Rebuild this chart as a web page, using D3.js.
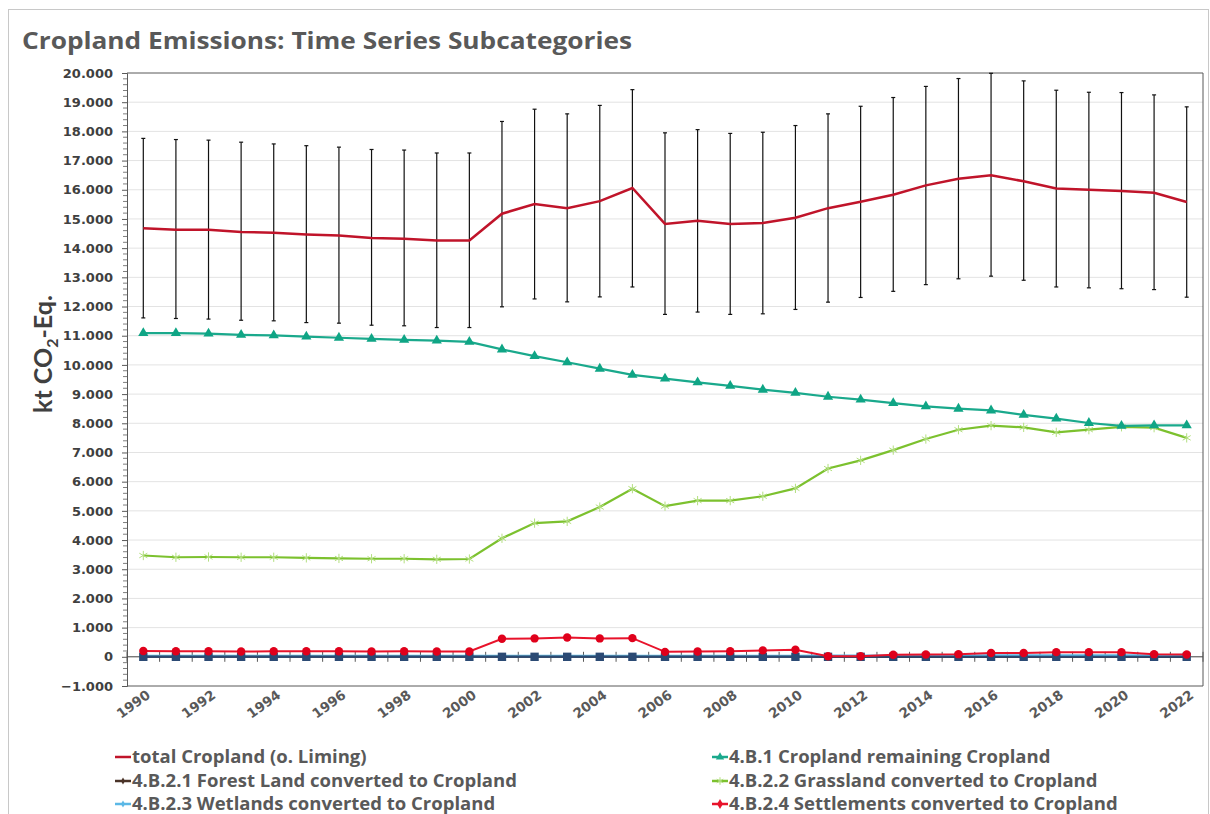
<!DOCTYPE html>
<html><head><meta charset="utf-8">
<script src="https://cdn.jsdelivr.net/npm/d3@7"></script>
<style>body{margin:0;background:#fff;}svg{display:block;font-family:"Open Sans",Lato,sans-serif;}</style>
</head><body><svg id="c" width="1210" height="814"></svg>
<script>
const years = d3.range(1990, 2023);
const totalCropland = [14680,14630,14630,14550,14530,14470,14430,14350,14320,14260,14260,15180,15510,15370,15610,16060,14830,14940,14830,14860,15040,15370,15590,15830,16150,16380,16500,16290,16040,16000,15960,15900,15580];
const totalUpper = [17760,17720,17700,17630,17570,17510,17460,17380,17360,17260,17260,18340,18760,18600,18890,19430,17950,18060,17930,17970,18200,18600,18860,19160,19540,19810,19990,19730,19410,19340,19330,19250,18840];
const totalLower = [11610,11590,11570,11530,11510,11450,11430,11360,11340,11280,11280,11990,12260,12160,12330,12670,11730,11810,11730,11750,11900,12150,12310,12520,12750,12950,13040,12900,12670,12640,12610,12580,12320];
const remaining = [11090,11090,11070,11030,11010,10970,10930,10890,10860,10830,10790,10530,10300,10090,9870,9660,9530,9400,9280,9150,9040,8910,8810,8690,8580,8500,8440,8290,8160,8010,7910,7930,7930];
const forestLand = [0,0,0,0,0,0,0,0,0,0,0,0,0,0,0,0,0,0,0,0,0,-10,-10,-10,-10,-10,-10,-10,-10,-10,-10,-10,-10];
const grassland = [3470,3410,3420,3410,3410,3390,3370,3360,3360,3340,3350,4060,4580,4640,5130,5760,5160,5350,5350,5500,5770,6450,6730,7080,7460,7780,7920,7860,7690,7780,7880,7850,7500];
const wetlands = [20,20,20,20,20,20,20,20,20,20,20,20,20,20,20,20,20,20,20,20,20,30,30,30,30,30,40,40,40,40,40,40,50];
const settlements = [200,190,190,180,190,190,190,180,190,180,180,620,630,660,630,640,170,180,190,220,240,20,20,70,80,90,130,130,160,160,160,90,80];
const otherLand = [0,0,0,0,0,0,0,0,0,0,0,0,0,0,0,0,0,0,0,0,0,0,0,0,0,0,0,0,0,0,0,0,0];
const yTicks = d3.range(-1000, 20001, 1000);
const xLabelYears = years.filter(y => (y - 1990) % 2 === 0);
const titleText = "Cropland Emissions: Time Series Subcategories";
const legendLabels = ["total Cropland (o. Liming)","4.B.1 Cropland remaining Cropland","4.B.2.1 Forest Land converted to Cropland","4.B.2.2 Grassland converted to Cropland","4.B.2.3 Wetlands converted to Cropland","4.B.2.4 Settlements converted to Cropland"];

const svg = d3.select("#c");
const L = 127, R = 1203, T = 73, B = 686;
const x = d3.scaleBand().domain(years).range([L, R]);
const cx = d => x(d) + x.bandwidth() / 2;
const y = d3.scaleLinear().domain([-1000, 20000]).range([B, T]);
const fmt = v => v === 0 ? "0" : d3.format(",")(v).replace(/,/g, ".");

// outer border
svg.append("rect").attr("x", 8.5).attr("y", 9.5).attr("width", 1200).attr("height", 820)
  .attr("fill", "none").attr("stroke", "#c8c8c8");

svg.append("text").attr("x", 22).attr("y", 49).attr("font-size", 24).attr("font-weight", 700)
  .attr("fill", "#595959").attr("textLength", 610).attr("lengthAdjust", "spacingAndGlyphs").text(titleText);

// gridlines
svg.append("g").selectAll("line").data(yTicks.filter(v => v !== -1000 && v !== 20000 && v !== 0)).join("line")
  .attr("x1", L).attr("x2", R).attr("y1", d => y(d)).attr("y2", d => y(d))
  .attr("stroke", "#e3e3e3").attr("stroke-width", 1);

// y axis
const yAxis = d3.axisLeft(y).tickValues(yTicks).tickFormat(fmt).tickSize(5).tickPadding(9);
const gy = svg.append("g").attr("transform", `translate(${L},0)`).call(yAxis);
gy.select(".domain").attr("stroke", "#595959");
gy.selectAll(".tick line").attr("stroke", "#595959");
gy.selectAll("text").attr("font-size", 13).attr("font-weight", 700).attr("fill", "#404040").attr("font-family", "DejaVu Sans");
const minor = d3.range(-1000, 20001, 200).filter(v => v % 1000 !== 0);
svg.append("g").selectAll("line").data(minor).join("line")
  .attr("x1", L - 4).attr("x2", L).attr("y1", d => y(d)).attr("y2", d => y(d)).attr("stroke", "#7f7f7f");

// plot border top/right/bottom
svg.append("path").attr("d", `M${L},${T}H${R}V${B}H${L}`).attr("fill", "none").attr("stroke", "#595959");

// zero axis with category ticks
svg.append("line").attr("x1", L).attr("x2", R).attr("y1", y(0)).attr("y2", y(0)).attr("stroke", "#404040");
svg.append("g").selectAll("line").data(years.concat([2023])).join("line")
  .attr("x1", d => d === 2023 ? R : x(d)).attr("x2", d => d === 2023 ? R : x(d))
  .attr("y1", y(0) - 5).attr("y2", y(0) + 5).attr("stroke", "#595959");

// x labels
svg.append("g").selectAll("text").data(xLabelYears).join("text")
  .attr("transform", d => `translate(${cx(d) + 8},${B + 11}) rotate(-36)`)
  .attr("text-anchor", "end").attr("font-family", "DejaVu Sans").attr("font-size", 13.5).attr("font-weight", 700).attr("fill", "#595959").text(d => d);

// y title
const yt = svg.append("text").attr("transform", "translate(52,354) rotate(-90)").attr("text-anchor", "middle")
  .attr("font-family", "Lato").attr("font-size", 25).attr("font-weight", 700).attr("fill", "#404040");
yt.append("tspan").text("kt CO");
yt.append("tspan").attr("font-size", 16).attr("dy", 6).text("2");
yt.append("tspan").attr("dy", -6).text("-Eq.");

// error bars
const eb = svg.append("g").attr("stroke", "#111").attr("stroke-width", 1.2);
years.forEach((yr, i) => {
  eb.append("line").attr("x1", cx(yr)).attr("x2", cx(yr)).attr("y1", y(totalUpper[i])).attr("y2", y(totalLower[i]));
  eb.append("line").attr("x1", cx(yr) - 2).attr("x2", cx(yr) + 2).attr("y1", y(totalUpper[i])).attr("y2", y(totalUpper[i]));
  eb.append("line").attr("x1", cx(yr) - 2).attr("x2", cx(yr) + 2).attr("y1", y(totalLower[i])).attr("y2", y(totalLower[i]));
});

const line = d3.line().x((d, i) => cx(years[i])).y(d => y(d));
function series(vals, color, width, sym, size, fill, stroke) {
  svg.append("path").attr("d", line(vals)).attr("fill", "none").attr("stroke", color).attr("stroke-width", width);
  if (sym) {
    svg.append("g").selectAll("path").data(vals).join("path")
      .attr("transform", (d, i) => `translate(${cx(years[i])},${y(d)})`)
      .attr("d", d3.symbol(sym, size)).attr("fill", fill).attr("stroke", stroke || "none").attr("stroke-width", 1);
  }
}
series(wetlands, "#5bb8e6", 3, null);
series(forestLand, "#4a3328", 2, null);
series(otherLand, "#2b4a74", 2, d3.symbolSquare, 70, "#2b4a74");
series(settlements, "#e8132b", 2, d3.symbolCircle, 55, "#e0001b");
series(grassland, "#7cc12e", 2.2, d3.symbolAsterisk, 60, "none", "#b3df80");
series(remaining, "#1aa98c", 2.2, d3.symbolTriangle, 45, "#0fa585");
series(totalCropland, "#c0142a", 2.5, null);

// legend
const lg = svg.append("g").attr("font-size", 18.5).attr("font-weight", 700).attr("fill", "#595959");
const lx = [115, 712], ly = [757, 781, 804];
const legendStyle = [
  {c: "#c0142a", sym: null},
  {c: "#1aa98c", sym: d3.symbolTriangle, s: 30},
  {c: "#4a3328", sym: d3.symbolDiamond, s: 14},
  {c: "#7cc12e", sym: d3.symbolAsterisk, s: 40, stroke: "#b3df80"},
  {c: "#5bb8e6", sym: d3.symbolDiamond, s: 14},
  {c: "#e8132b", sym: d3.symbolDiamond, s: 30}
];
legendLabels.forEach((t, i) => {
  const gx = lx[i % 2], gyy = ly[Math.floor(i / 2)];
  const st = legendStyle[i];
  lg.append("line").attr("x1", gx).attr("x2", gx + 16).attr("y1", gyy).attr("y2", gyy).attr("stroke", st.c).attr("stroke-width", 2.5);
  if (st.sym) lg.append("path").attr("transform", `translate(${gx + 8},${gyy})`).attr("d", d3.symbol(st.sym, st.s))
    .attr("fill", st.stroke ? "none" : st.c).attr("stroke", st.stroke || "none");
  lg.append("text").attr("x", gx + 17).attr("y", gyy + 6).text(t);
});
</script></body></html>
